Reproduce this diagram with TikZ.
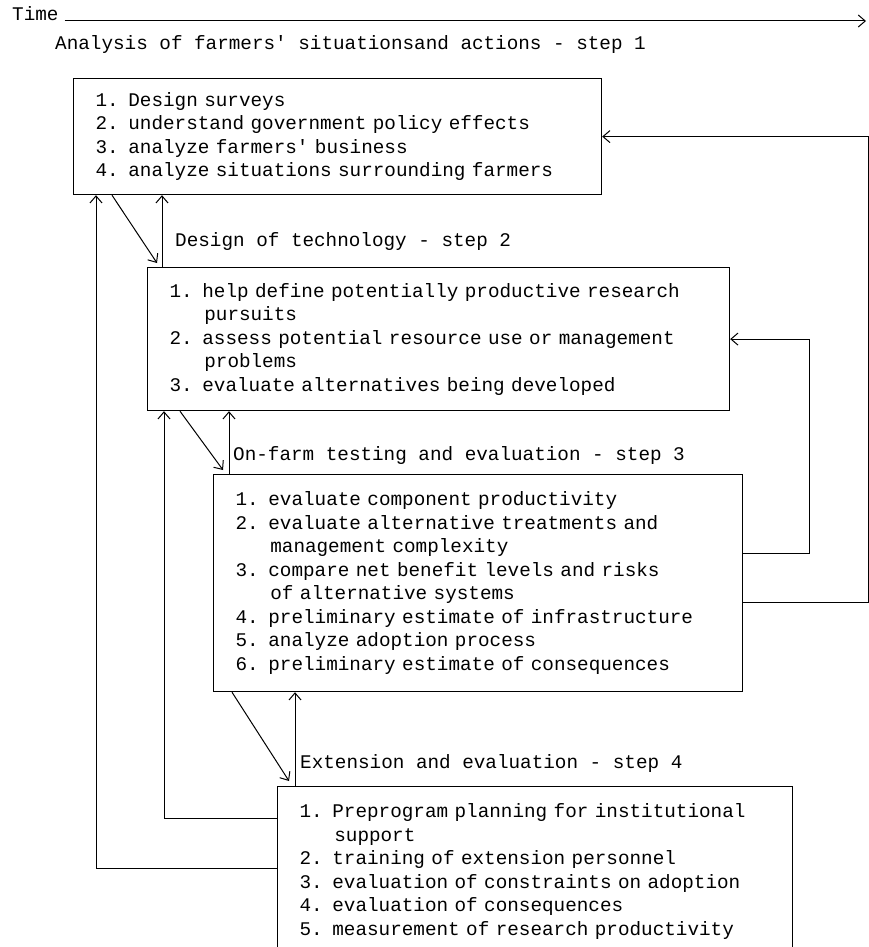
\documentclass[tikz,border=0pt]{standalone}
\usepackage{fontspec}
\newfontfamily\typewriter{Liberation Mono}
\usetikzlibrary{arrows.meta}
\newcommand{\stepfont}{\typewriter\fontsize{19.3}{23.5}\selectfont}
\newcommand{\hangin}{\hspace*{1.8em}}

\begin{document}
\begin{tikzpicture}
		[x=1pt,y=-1pt,
		stepbox/.style={draw,line width=1.2pt,anchor=north west,align=left,
inner xsep=22pt,inner ysep=4pt,font=\stepfont},
		steptitle/.style={anchor=base west,inner sep=0pt,font=\stepfont},
		flow/.style={->,line width=1pt},
		>={Straight Barb[length=7pt,width=12pt]}]
		\useasboundingbox (0,0) rectangle (869,947);
		\node at (12,21) (time) [steptitle] {Time};
		\coordinate (tend) at (866,21);
		\draw[flow] ([xshift=6pt]time.base east) -- (tend);
		\node at (55,50) (t1) [steptitle] {Analysis of farmers\textquotesingle{} situationsand actions - step 1};
		\node at (73,78) (b1) [stepbox,text width=484pt,minimum height=116pt]
			{1. Design surveys\\
			2. understand government policy effects\\
			3. analyze farmers\textquotesingle{} business\\
			4. analyze situations surrounding farmers};
		\node at (175,246) (t2) [steptitle] {Design of technology - step 2};
		\node at (147,267) (b2) [stepbox,text width=538pt,minimum height=143pt]
			{1. help define potentially productive research\\
			\hangin pursuits\\
			2. assess potential resource use or management\\
			\hangin problems\\
			3. evaluate alternatives being developed};
		\node at (233,460) (t3) [steptitle] {On-farm testing and evaluation - step 3};
		\node at (213,474) (b3) [stepbox,text width=485pt,minimum height=217pt]
			{1. evaluate component productivity\\
			2. evaluate alternative treatments and\\
			\hangin management complexity\\
			3. compare net benefit levels and risks\\
			\hangin of alternative systems\\
			4. preliminary estimate of infrastructure\\
			5. analyze adoption process\\
			6. preliminary estimate of consequences};
		\node at (300,768) (t4) [steptitle] {Extension and evaluation - step 4};
		\node at (277,786) (b4) [stepbox,text width=471pt,minimum height=170pt]
			{1. Preprogram planning for institutional\\
			\hangin support\\
			2. training of extension personnel\\
			3. evaluation of constraints on adoption\\
			4. evaluation of consequences\\
			5. measurement of research productivity};
		\coordinate (up1) at ([xshift=15pt]b2.north west);
		\coordinate (up2) at ([xshift=16pt]b3.north west);
		\coordinate (up3) at ([xshift=18pt]b4.north west);
		\coordinate (c1) at ([xshift=17pt]b2.south west);
		\coordinate (c2) at ([xshift=23pt]b1.south west);
		\coordinate (d1) at ([xshift=79pt]b2.east);
		\coordinate (d2) at ([xshift=266pt]b1.east);
		\draw[flow] ([xshift=39pt]b1.south west) -- ([xshift=10pt,yshift=4pt]b2.north west);
		\draw[flow] (up1) -- (up1 |- b1.south);
		\draw[flow] ([xshift=33pt]b2.south west) -- ([xshift=10pt,yshift=4pt]b3.north west);
		\draw[flow] (up2) -- (up2 |- b2.south);
		\draw[flow] ([xshift=19pt]b3.south west) -- ([xshift=12pt,yshift=5pt]b4.north west);
		\draw[flow] (up3) -- (up3 |- b3.south);
		\draw[flow] ([yshift=-32pt]b4.north west) -| (c1);
		\draw[flow] ([yshift=-82pt]b4.north west) -| (c2);
		\draw[flow] ([yshift=-79pt]b3.north east) -| (d1) -- (b2.east);
		\draw[flow] ([yshift=-128pt]b3.north east) -| (d2) -- (b1.east);
	\end{tikzpicture}
\end{document}
